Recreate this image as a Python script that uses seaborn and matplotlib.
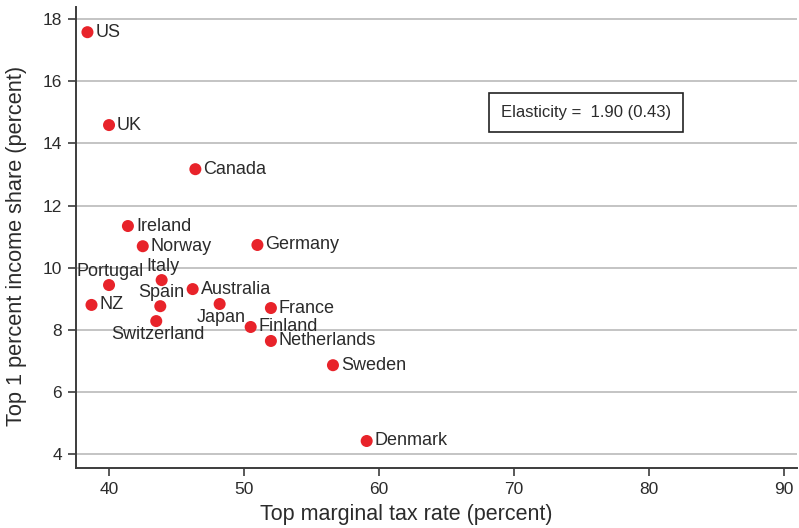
import matplotlib
matplotlib.use("Agg")
import matplotlib.pyplot as plt
import seaborn as sns
import pandas as pd

# Top marginal tax rate vs. top 1% income share, by country
countries = ["US", "UK", "Canada", "Ireland", "Norway", "Germany", "Portugal",
             "Italy", "Australia", "NZ", "Spain", "Japan", "France",
             "Switzerland", "Finland", "Netherlands", "Sweden", "Denmark"]
tax_rate = [38.4, 40.0, 46.4, 41.4, 42.5, 51.0, 40.0,
            43.9, 46.2, 38.7, 43.8, 48.2, 52.0,
            43.5, 50.5, 52.0, 56.6, 59.1]
top1_share = [17.58, 14.59, 13.17, 11.34, 10.69, 10.73, 9.44,
              9.60, 9.31, 8.80, 8.76, 8.83, 8.70,
              8.28, 8.09, 7.64, 6.86, 4.42]
elasticity_text = "Elasticity =  1.90 (0.43)"

x_ticks = [40, 50, 60, 70, 80, 90]
y_ticks = [4, 6, 8, 10, 12, 14, 16, 18]

df = pd.DataFrame({"country": countries, "tax": tax_rate, "share": top1_share})

sns.set_theme(style="white")
plt.rcParams["font.family"] = ["Liberation Sans", "DejaVu Sans"]

text_col = "#2b2b2b"
axis_col = "#3c3c3c"
grid_col = "#c4c4c4"
dot_col = "#e8232a"

fig = plt.figure(figsize=(7.99, 5.28), dpi=100)
ax = fig.add_axes([0.0951, 0.1136, 0.9024, 0.8731])

for yt in y_ticks:
    ax.axhline(yt, color=grid_col, lw=1.4, zorder=0)

sns.scatterplot(data=df, x="tax", y="share", ax=ax, color=dot_col,
                s=75, edgecolor="none", zorder=3, legend=False)

# label placement: right of the dot unless noted
above = {"Portugal", "Italy", "Spain"}
below = {"Japan", "Switzerland"}
for c, xv, yv in zip(countries, tax_rate, top1_share):
    if c in above:
        off, ha, va = (1, 9.5), "center", "center"
    elif c in below:
        off, ha, va = (1, -10), "center", "center"
    else:
        off, ha, va = (5.8, 0), "left", "center"
    ax.annotate(c, (xv, yv), xytext=off, textcoords="offset points",
                ha=ha, va=va, fontsize=13, color=text_col, zorder=4)

ax.text(0.707, 0.772, elasticity_text, transform=ax.transAxes,
        ha="center", va="center", fontsize=12, color=text_col,
        bbox=dict(boxstyle="square,pad=0.72", fc="white", ec="#222222", lw=1.2))

ax.set_xlim(37.55, 91.0)
ax.set_ylim(3.55, 18.39)
ax.set_xticks(x_ticks)
ax.set_yticks(y_ticks)
ax.set_xlabel("Top marginal tax rate (percent)", fontsize=15.5, color=text_col)
ax.set_ylabel("Top 1 percent income share (percent)", fontsize=15.7, color=text_col)
ax.xaxis.set_label_coords(0.458, -0.078)
ax.yaxis.set_label_coords(-0.068, 0.482)
ax.tick_params(axis="both", direction="out", length=6, width=1.2, color=axis_col,
               labelsize=12.5, labelcolor=text_col, pad=4)
ax.tick_params(axis="both", which="both", bottom=True, left=True)

for side in ["top", "right"]:
    ax.spines[side].set_visible(False)
for side in ["left", "bottom"]:
    ax.spines[side].set_color(axis_col)
    ax.spines[side].set_linewidth(1.4)

fig.savefig("out.png", dpi=100)
